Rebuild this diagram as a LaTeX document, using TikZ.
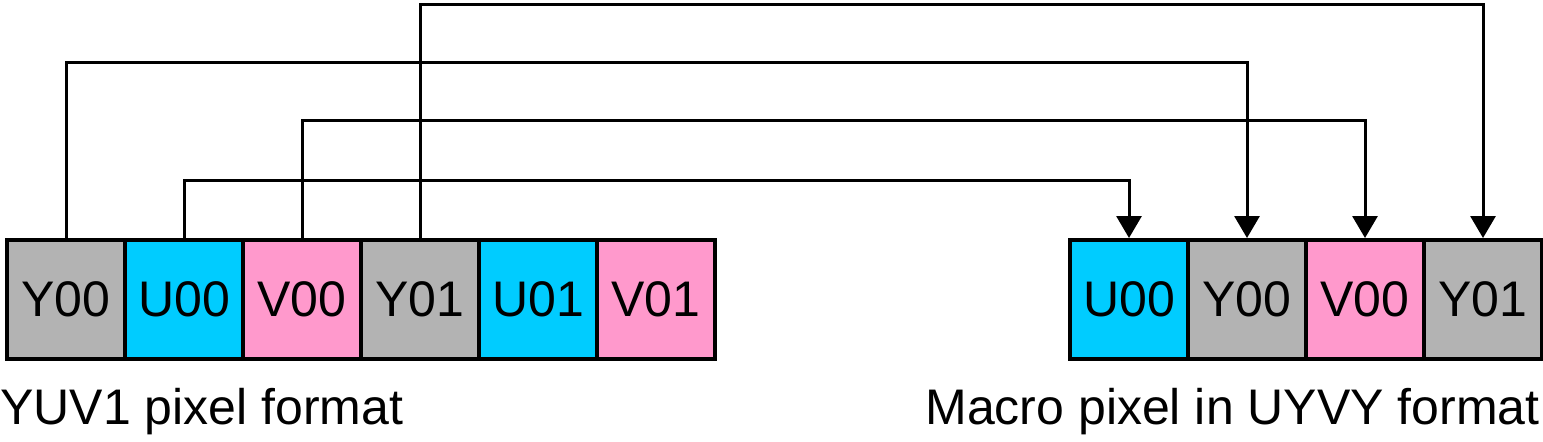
\documentclass[tikz,border=0pt]{standalone}
\usepackage{fontspec}
\setmainfont{Liberation Sans}
\usetikzlibrary{arrows.meta}
\definecolor{lumagray}{HTML}{B3B3B3}
\definecolor{chromau}{HTML}{00CCFF}
\definecolor{chromav}{HTML}{FF99CC}

\begin{document}
\begin{tikzpicture}[x=0.5pt, y=-0.5pt, every node/.style={font=\fontsize{25}{30}\selectfont},
	cell/.style={draw, line width=2pt, minimum width=59pt, minimum height=59.5pt, inner sep=0pt, anchor=north west},
	link/.style={line width=1.5pt, -{Triangle[width=12.5pt, length=11pt]}}]
	\useasboundingbox (0,0) rectangle (1543,441);
	% YUV1 row
	\foreach \i/\t/\c in {1/Y00/lumagray, 2/U00/chromau, 3/V00/chromav, 4/Y01/lumagray, 5/U01/chromau, 6/V01/chromav}
		\node[cell, fill=\c] (l\i) at ({5+118*(\i-1)},238) {\t};
	% UYVY macro pixel
	\foreach \i/\t/\c in {1/U00/chromau, 2/Y00/lumagray, 3/V00/chromav, 4/Y01/lumagray}
		\node[cell, fill=\c] (r\i) at ({1068+118*(\i-1)},238) {\t};
	\draw[link] (l4.north) -- ++(0,-234) -| (r4.north);
	\draw[link] (l1.north) -- ++(0,-176) -| (r2.north);
	\draw[link] (l3.north) -- ++(0,-118) -| (r3.north);
	\draw[link] (l2.north) -- ++(0,-58) -| (r1.north);
	\node[anchor=base west, inner sep=0pt] (lt) at (0,424) {YUV1 pixel format};
	\node[anchor=base east, inner sep=0pt] (rt) at (1540,424) {Macro pixel in UYVY format};
\end{tikzpicture}
\end{document}
